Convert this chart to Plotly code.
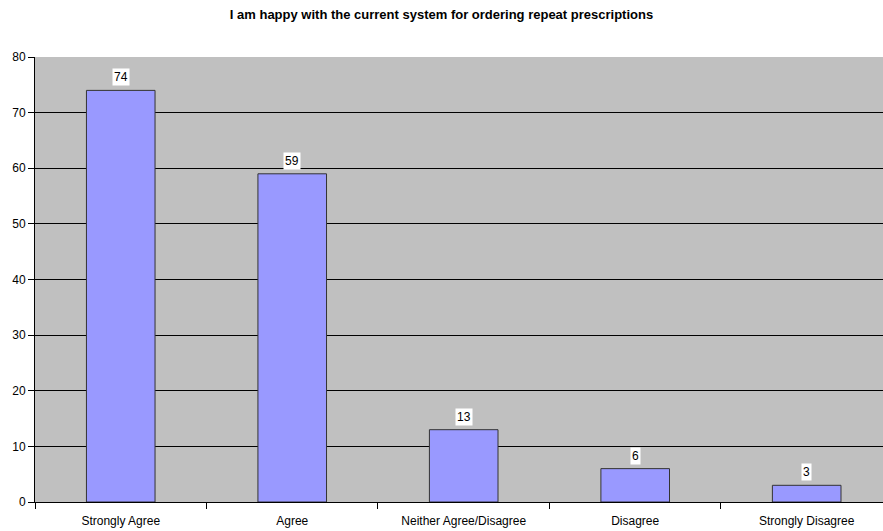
import plotly.graph_objects as go

categories = ["Strongly Agree", "Agree", "Neither Agree/Disagree", "Disagree", "Strongly Disagree"]
counts = [74, 59, 13, 6, 3]
y_ticks = [0, 10, 20, 30, 40, 50, 60, 70, 80]

title_text = "I am happy with the current system for ordering repeat prescriptions"
font_family = "Liberation Sans, Arial, sans-serif"

fig = go.Figure()
fig.add_trace(go.Bar(
    x=categories,
    y=counts,
    width=0.4,
    marker=dict(color="#9999FF", line=dict(color="#333333", width=1)),
    hoverinfo="x+y",
))

# value labels on white boxes above each bar
for cat, val in zip(categories, counts):
    fig.add_annotation(
        x=cat, y=val, text=str(val), showarrow=False,
        yanchor="bottom", yshift=4,
        bgcolor="white", borderpad=1,
        font=dict(family=font_family, size=12, color="black"),
    )

fig.update_layout(
    width=883, height=531,
    margin=dict(l=35, r=0, t=57, b=29),
    paper_bgcolor="white",
    plot_bgcolor="#C0C0C0",
    showlegend=False,
    bargap=0.6,
    title=dict(
        text="<b>" + title_text + "</b>",
        x=0.5, xanchor="center", y=1 - 14 / 531, yanchor="middle",
        font=dict(family=font_family, size=13, color="black"),
    ),
    font=dict(family=font_family, size=12, color="black"),
    xaxis=dict(
        type="category",
        range=[-0.5, 4.445],
        showgrid=False,
        showline=True, linecolor="black", linewidth=1,
        ticks="outside", tickson="boundaries", ticklen=6, tickcolor="black",
        ticklabelstandoff=8,
        tickfont=dict(family=font_family, size=12, color="black"),
        fixedrange=True,
    ),
    yaxis=dict(
        range=[0, 80],
        tickvals=y_ticks,
        showgrid=True, gridcolor="black", gridwidth=1,
        showline=True, linecolor="black", linewidth=1,
        ticks="outside", ticklen=6, tickcolor="black",
        tickfont=dict(family=font_family, size=12, color="black"),
        zeroline=False,
        fixedrange=True,
    ),
)

fig.write_html("out.html")
